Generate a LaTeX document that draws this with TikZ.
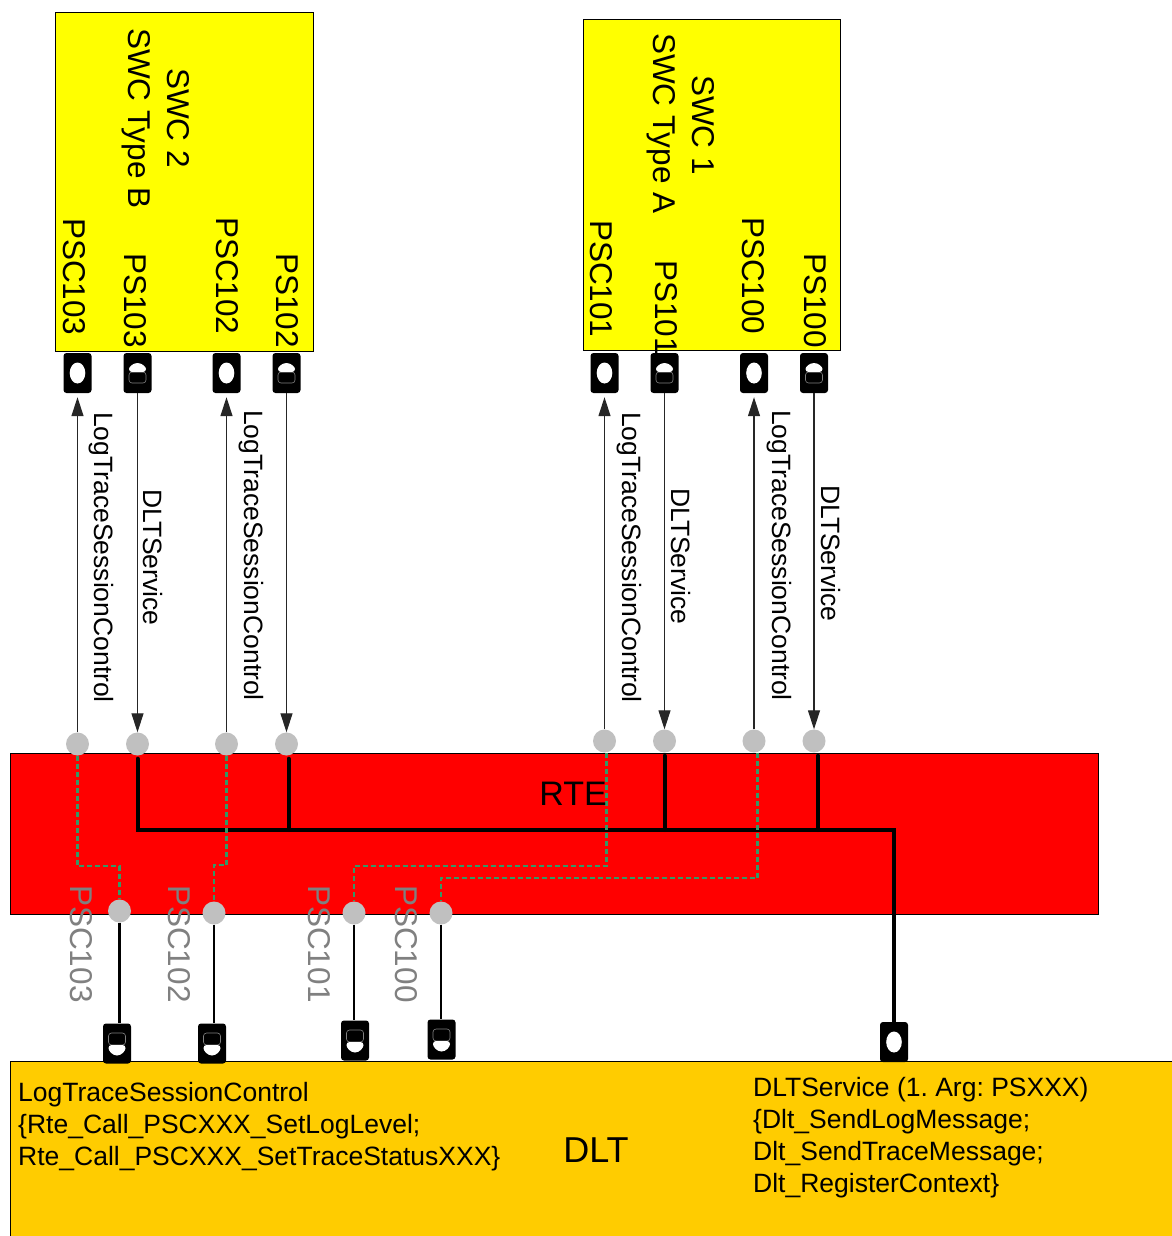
\documentclass[tikz,border=0pt]{standalone}
\usepackage{fontspec}
\setmainfont{Liberation Sans}
\usetikzlibrary{arrows.meta}
\definecolor{swcyellow}{HTML}{FFFF00}
\definecolor{rtered}{HTML}{FF0000}
\definecolor{dltorange}{HTML}{FFCC00}
\definecolor{circgray}{HTML}{C0C0C0}
\definecolor{labgray}{HTML}{808080}
\definecolor{dashgreen}{HTML}{339966}
\frenchspacing
\begin{document}
\begin{tikzpicture}[x=1pt,y=-1pt,
  boxbase/.style={draw=black, line width=1pt, inner sep=0pt, anchor=north west},
  swcbox/.style={boxbase, fill=swcyellow},
  port/.style={fill=black, rounded corners=3pt, minimum width=28pt, minimum height=40pt, inner sep=0pt},
  cport/.style={port, path picture={\fill[white] (path picture bounding box.center) ellipse [x radius=7.8pt, y radius=10.5pt];}},
  sport/.style={port, path picture={
     \draw[gray, line width=0.6pt] ([xshift=-8.5pt,yshift=1pt]path picture bounding box.center) rectangle ([xshift=8.5pt,yshift=-10pt]path picture bounding box.center);
     \fill[white] ([xshift=-8.5pt,yshift=1pt]path picture bounding box.center) arc[start angle=180,end angle=0,x radius=8.5pt,y radius=9pt] -- cycle;}},
  dport/.style={port, path picture={
     \draw[gray, line width=0.6pt] ([xshift=-8.5pt,yshift=10.5pt]path picture bounding box.center) rectangle ([xshift=8.5pt,yshift=-1.5pt]path picture bounding box.center);
     \fill[white] ([xshift=-8.5pt,yshift=-1.5pt]path picture bounding box.center) arc[start angle=180,end angle=360,x radius=8.5pt,y radius=10.5pt] -- cycle;}},
  circ/.style={circle, fill=circgray, minimum size=23pt, inner sep=0pt},
  svc/.style={draw=black!85, line width=1.1pt},
  tipstyle/.style={-{Triangle[length=19pt,width=12pt]}},
  bus/.style={draw=black, line width=4pt, line cap=round},
  dlink/.style={draw=black, line width=2.8pt},
  tracedash/.style={draw=dashgreen, line width=2.5pt, dash pattern=on 5pt off 3pt},
  rlab/.style={rotate=-90, anchor=base west, inner sep=0pt},
  bigf/.style={font=\fontsize{31.5}{36}\selectfont},
  midf/.style={font=\fontsize{26.5}{32}\selectfont},
]
\useasboundingbox (0,0) rectangle (1171,1236);
\fill[white] (0,0) rectangle (1171,1236);

% boxes
\node[swcbox, minimum width=258pt, minimum height=339pt] (swc2) at (55,12) {};
\node[swcbox, minimum width=257pt, minimum height=331pt] (swc1) at (583,19) {};
\node[boxbase, fill=rtered, minimum width=1088pt, minimum height=161pt] (rte) at (10,753) {};
\node[boxbase, fill=dltorange, minimum width=1200pt, minimum height=200pt] (dlt) at (10,1061) {};

% circles on the RTE top edge
\node[circ] (c1) at (77.5,744) {};
\node[circ] (c2) at (137.5,744) {};
\node[circ] (c3) at (226.5,744) {};
\node[circ] (c4) at (286.5,744) {};
\node[circ] (c5) at (604.5,741) {};
\node[circ] (c6) at (664.5,741) {};
\node[circ] (c7) at (754,741) {};
\node[circ] (c8) at (814,741) {};

% top ports
\node[cport] (tp1) at (77.5,373) {};
\node[sport] (tp2) at (137.5,373) {};
\node[cport] (tp3) at (226.5,373) {};
\node[sport] (tp4) at (286.5,373) {};
\node[cport] (tp5) at (604.5,373) {};
\node[sport] (tp6) at (664.5,373) {};
\node[cport] (tp7) at (754,373) {};
\node[sport] (tp8) at (814,373) {};

% bottom ports
\node[dport] (p1) at (117,1043.5) {};
\node[dport] (p2) at (212,1043.5) {};
\node[dport] (p3) at (355,1040.5) {};
\node[dport] (p4) at (441.5,1039.5) {};
\node[cport] (p5) at (894,1042) {};

\coordinate (busy) at (0,830);
\coordinate (d1y) at (0,866);
\coordinate (d2y) at (0,865);
\coordinate (d3y) at (0,866);
\coordinate (d4y) at (0,878);

% DLTService bus
\draw[bus] ([yshift=-3pt]c2.south) -- (c2.south |- busy) -- (busy -| p5) -- (p5.north);
\draw[bus] ([xshift=2pt,yshift=-3pt]c4.south) -- ([xshift=2pt]c4.south |- busy);
\draw[bus] ([yshift=-3pt]c6.south) -- (c6.south |- busy);
\draw[bus] ([xshift=4pt,yshift=-3pt]c8.south) -- ([xshift=4pt]c8.south |- busy);

% circles on the RTE bottom edge
\node[circ] (b1) at (119.5,911) {};
\node[circ] (b2) at (214,913) {};
\node[circ] (b3) at (354,913) {};
\node[circ] (b4) at (441,913) {};

% trace session dashed routes
\draw[tracedash] (c1.south) -- (c1.south |- d1y) -- (d1y -| b1) -- (b1.north);
\draw[tracedash] (c3.south) -- (c3.south |- d2y) -- (d2y -| b2) -- (b2.north);
\draw[tracedash] ([xshift=2pt]c5.south) -- ([xshift=2pt]c5.south |- d3y) -- (d3y -| b3) -- (b3.north);
\draw[tracedash] ([xshift=3.5pt]c7.south) -- ([xshift=3.5pt]c7.south |- d4y) -- (d4y -| b4) -- (b4.north);

% links to DLT
\draw[dlink] (b1.south) -- (b1.south |- p1.north);
\draw[dlink] (b2.south) -- (b2.south |- p2.north);
\draw[dlink] (b3.south) -- (b3.south |- p3.north);
\draw[dlink] (b4.south) -- (b4.south |- p4.north);

% arrows between SWC ports and RTE
\draw[svc, tipstyle, shorten >=4pt] (c1.north) -- (tp1.south);
\draw[svc, tipstyle] (tp2.south) -- (c2.north);
\draw[svc, tipstyle, shorten >=4pt] (c3.north) -- (tp3.south);
\draw[svc, tipstyle] (tp4.south) -- (c4.north);
\draw[svc, tipstyle, shorten >=4pt] (c5.north) -- (tp5.south);
\draw[svc, tipstyle] (tp6.south) -- (c6.north);
\draw[svc, tipstyle, shorten >=4pt] (c7.north) -- (tp7.south);
\draw[svc, tipstyle] (tp8.south) -- (c8.north);

% SWC texts
\node[rlab, bigf] (s2n) at (167,68) {SWC 2};
\node[rlab, bigf] (s2t) at (128,28) {SWC Type B};
\node[rlab, bigf] (l1) at (63,218) {PSC103};
\node[rlab, bigf] (l2) at (124,253) {PS103};
\node[rlab, bigf] (l3) at (216,217) {PSC102};
\node[rlab, bigf] (l4) at (276,253) {PS102};
\node[rlab, bigf] (s1n) at (692,75) {SWC 1};
\node[rlab, bigf] (s1t) at (653,33) {SWC Type A};
\node[rlab, bigf] (l5) at (590,220) {PSC101};
\node[rlab, bigf] (l6) at (655,260) {PS101};
\node[rlab, bigf] (l7) at (742,217) {PSC100};
\node[rlab, bigf] (l8) at (804,253) {PS100};

% connector labels
\node[rlab, midf] (a1) at (94,412) {LogTraceSessionControl};
\node[rlab, midf] (a2) at (143,489) {DLTService};
\node[rlab, midf] (a3) at (244,410) {LogTraceSessionControl};
\node[rlab, midf] (a5) at (622,412) {LogTraceSessionControl};
\node[rlab, midf] (a6) at (671,488) {DLTService};
\node[rlab, midf] (a7) at (772,410) {LogTraceSessionControl};
\node[rlab, midf] (a8) at (821,485) {DLTService};

% grey port labels on RTE
\node[rlab, bigf, text=labgray] (g1) at (70,885) {PSC103};
\node[rlab, bigf, text=labgray] (g2) at (168,885) {PSC102};
\node[rlab, bigf, text=labgray] (g3) at (308,885) {PSC101};
\node[rlab, bigf, text=labgray] (g4) at (395,885) {PSC100};

% titles
\node[font=\fontsize{34}{40}\selectfont, inner sep=0pt] (rtet) at (573,794) {RTE};
\node[font=\fontsize{36}{42}\selectfont, inner sep=0pt] (dltt) at (596,1150) {DLT};

\node[midf, anchor=north west, inner sep=0pt, align=left] (dl) at (18,1082)
  {LogTraceSessionControl\\\{Rte\_Call\_PSCXXX\_SetLogLevel;\\Rte\_Call\_PSCXXX\_SetTraceStatusXXX\}};
\node[midf, anchor=north west, inner sep=0pt, align=left] (dr) at (753,1077)
  {DLTService (1. Arg: PSXXX)\\\{Dlt\_SendLogMessage;\\Dlt\_SendTraceMessage;\\Dlt\_RegisterContext\}};
\end{tikzpicture}
\end{document}
